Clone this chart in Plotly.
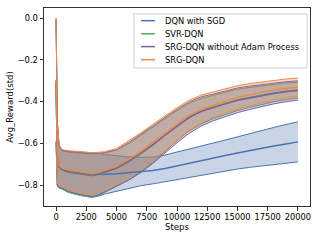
import plotly.graph_objects as go

steps = [0, 100, 250, 500, 1000, 1500, 2000, 2500, 3000, 3500, 4000, 5000, 6000, 7000,
         8000, 9000, 10000, 11000, 12000, 13000, 14000, 15000, 16000, 17000, 18000, 19000, 20000]

sgd_mean = [-0.30, -0.65, -0.71, -0.725, -0.735, -0.74, -0.745, -0.748, -0.75, -0.75, -0.748, -0.745,
            -0.74, -0.735, -0.73, -0.72, -0.707, -0.695, -0.683, -0.67, -0.658, -0.646, -0.634,
            -0.623, -0.613, -0.603, -0.593]
sgd_std = [0.30, 0.15, 0.10, 0.092, 0.097, 0.10, 0.102, 0.104, 0.105, 0.103, 0.095, 0.085, 0.075,
           0.068, 0.064, 0.064, 0.065, 0.066, 0.068, 0.071, 0.074, 0.077, 0.081, 0.085, 0.089,
           0.093, 0.096]

svr_mean = [-0.305, -0.655, -0.715, -0.728, -0.738, -0.743, -0.748, -0.751, -0.755, -0.749, -0.740,
            -0.720, -0.688, -0.650, -0.607, -0.561, -0.515, -0.475, -0.446, -0.426, -0.409, -0.392,
            -0.380, -0.369, -0.359, -0.351, -0.345]
svr_std = [0.29, 0.15, 0.10, 0.092, 0.097, 0.10, 0.102, 0.104, 0.105, 0.101, 0.095, 0.088, 0.088,
           0.088, 0.085, 0.078, 0.072, 0.066, 0.061, 0.056, 0.053, 0.051, 0.048, 0.045, 0.042,
           0.040, 0.038]

noadam_mean = [-0.30, -0.652, -0.713, -0.725, -0.735, -0.741, -0.745, -0.749, -0.752, -0.747, -0.738,
               -0.718, -0.686, -0.648, -0.606, -0.561, -0.517, -0.477, -0.447, -0.428, -0.411,
               -0.394, -0.382, -0.371, -0.361, -0.353, -0.347]
noadam_std = [0.29, 0.148, 0.098, 0.090, 0.095, 0.098, 0.100, 0.102, 0.103, 0.099, 0.093, 0.087,
              0.090, 0.092, 0.090, 0.085, 0.080, 0.075, 0.070, 0.064, 0.061, 0.059, 0.056, 0.053,
              0.050, 0.048, 0.046]

srg_mean = [-0.295, -0.645, -0.705, -0.718, -0.728, -0.733, -0.738, -0.741, -0.745, -0.739, -0.730,
            -0.710, -0.677, -0.640, -0.597, -0.552, -0.507, -0.466, -0.436, -0.415, -0.397, -0.380,
            -0.367, -0.356, -0.345, -0.337, -0.330]
srg_std = [0.295, 0.145, 0.095, 0.088, 0.093, 0.095, 0.098, 0.099, 0.100, 0.096, 0.090, 0.085,
           0.088, 0.090, 0.088, 0.083, 0.078, 0.072, 0.067, 0.061, 0.058, 0.056, 0.053, 0.050,
           0.047, 0.045, 0.043]

series_names = ["DQN with SGD", "SVR-DQN", "SRG-DQN without Adam Process", "SRG-DQN"]
series_means = [sgd_mean, svr_mean, noadam_mean, srg_mean]
series_stds = [sgd_std, svr_std, noadam_std, srg_std]
line_colors = ["#4c72b0", "#55a868", "#7a5fa8", "#ee8a45"]
fill_colors = ["rgba(76,114,176,0.3)", "rgba(85,168,104,0.3)", "rgba(122,95,168,0.3)",
               "rgba(221,132,82,0.3)"]

x_ticks = [0, 2500, 5000, 7500, 10000, 12500, 15000, 17500, 20000]
x_labels = ["0", "2500", "5000", "7500", "10000", "12500", "15000", "17500", "20000"]
y_ticks = [-0.8, -0.6, -0.4, -0.2, 0.0]
y_labels = ["\u22120.8", "\u22120.6", "\u22120.4", "\u22120.2", "0.0"]

fig = go.Figure()
for m, s, col, fcol in zip(series_means, series_stds, line_colors, fill_colors):
    lo = [a - b for a, b in zip(m, s)]
    hi = [a + b for a, b in zip(m, s)]
    fig.add_trace(go.Scatter(x=steps, y=lo, mode="lines", line=dict(color=col, width=1),
                             showlegend=False, hoverinfo="skip"))
    fig.add_trace(go.Scatter(x=steps, y=hi, mode="lines", line=dict(color=col, width=1),
                             fill="tonexty", fillcolor=fcol, showlegend=False, hoverinfo="skip"))
for name, m, col in zip(series_names, series_means, line_colors):
    fig.add_trace(go.Scatter(x=steps, y=m, mode="lines", name=name, showlegend=False,
                             line=dict(color=col, width=1.5)))

# legend drawn inside the axes (matplotlib-style compact legend)
shapes = [dict(type="rect", xref="paper", yref="paper", x0=0.338, x1=0.989, y0=0.697, y1=0.970,
               line=dict(color="#d0d0d0", width=1), fillcolor="rgba(255,255,255,0.85)",
               layer="above")]
annotations = []
entry_y = [0.936, 0.870, 0.805, 0.739]
for name, col, yy in zip(series_names, line_colors, entry_y):
    shapes.append(dict(type="line", xref="paper", yref="paper", x0=0.365, x1=0.417, y0=yy, y1=yy,
                       line=dict(color=col, width=1.5), layer="above"))
    annotations.append(dict(xref="paper", yref="paper", x=0.446, y=yy, text=name,
                            showarrow=False, xanchor="left", yanchor="middle",
                            font=dict(size=8.3, color="black")))

font = "DejaVu Sans, sans-serif"
fig.update_layout(
    width=320, height=240,
    margin=dict(l=44, r=10, t=8, b=34, autoexpand=False),
    paper_bgcolor="white", plot_bgcolor="white",
    font=dict(family=font, size=8.3, color="black"),
    showlegend=False,
    shapes=shapes, annotations=annotations,
    xaxis=dict(range=[-1000, 21000], tickvals=x_ticks, ticktext=x_labels, tickangle=0,
               automargin=False, tickfont=dict(size=8.3),
               showgrid=False, zeroline=False, showline=True, linecolor="#333333", linewidth=1,
               mirror=True, ticks="outside", ticklen=3.5, tickcolor="#333333",
               title=dict(text="Steps", font=dict(size=8.5), standoff=1)),
    yaxis=dict(range=[-0.90, 0.048], tickvals=y_ticks, ticktext=y_labels, automargin=False,
               tickfont=dict(size=8.3),
               showgrid=False, zeroline=False, showline=True, linecolor="#333333", linewidth=1,
               mirror=True, ticks="outside", ticklen=3.5, tickcolor="#333333",
               title=dict(text="Avg_Reward(std)", font=dict(size=8.5), standoff=2)),
)
fig.write_html("out.html", config={"displayModeBar": False},
               post_script="document.body.style.margin='0';")
